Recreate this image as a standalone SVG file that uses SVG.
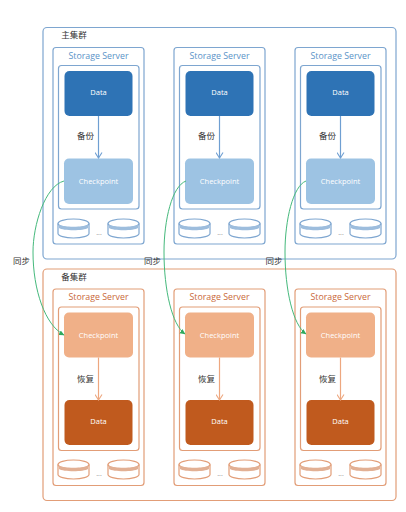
<svg xmlns="http://www.w3.org/2000/svg" xmlns:xlink="http://www.w3.org/1999/xlink" width="406" height="512" viewBox="0 0 406 512">
<style>
text{font-family:"Open Sans","Noto Sans",sans-serif;text-anchor:middle}
.zh{font-family:"Noto Sans CJK SC",sans-serif;font-size:8.5px;fill:#333}
.ss{font-size:8.8px}
.w{fill:#fff;font-size:7.5px}
.cb{fill:#9dc3e3}.db{fill:#2e73b5}.co{fill:#f0b088}.do{fill:#c05a1e}
.bl{fill:none;stroke:#7ea6d0;stroke-width:1.2}
.or{fill:none;stroke:#e29d77;stroke-width:1.2}
.tb{fill:#5b93c8}.to{fill:#c9764a}
.sb{fill:#5b93c8;font-size:8.8px}
.so{fill:#c9683a;font-size:8.8px}
.dot{font-size:7px;fill:#8a8a8a}
.sync{fill:none;stroke:#45b97c;stroke-width:1}
.ab{stroke:#6f9fd2;stroke-width:1.2;fill:none}
.ao{stroke:#eda77f;stroke-width:1.2;fill:none}
</style>
<defs>
<g id="cylb"><ellipse class="bl" cx="15.5" cy="4.5" rx="15.5" ry="4.5"/><path class="bl" d="M0 4.5V14.5C0 17 7 19 15.5 19S31 17 31 14.5V4.5"/><path d="M1 5.5C4 8.5 27 8.5 30 5.5V9C26 12 5 12 1 9Z" fill="#9dbddd"/></g>
<g id="cylo"><ellipse class="or" cx="15.5" cy="4.5" rx="15.5" ry="4.5"/><path class="or" d="M0 4.5V14.5C0 17 7 19 15.5 19S31 17 31 14.5V4.5"/><path d="M1 5.5C4 8.5 27 8.5 30 5.5V9C26 12 5 12 1 9Z" fill="#e2b094"/></g>
<marker id="gh" markerWidth="6" markerHeight="6" refX="5" refY="3" orient="auto" markerUnits="userSpaceOnUse"><path d="M0 0.5L5.5 3L0 5.5Z" fill="#2faa5e"/></marker>
<marker id="hb" markerWidth="8" markerHeight="8" refX="6.5" refY="4" orient="auto" markerUnits="userSpaceOnUse"><path d="M1 0.5L6.5 4L1 7.5" fill="none" stroke="#6f9fd2" stroke-width="1.1"/></marker>
<marker id="ho" markerWidth="8" markerHeight="8" refX="6.5" refY="4" orient="auto" markerUnits="userSpaceOnUse"><path d="M1 0.5L6.5 4L1 7.5" fill="none" stroke="#eda77f" stroke-width="1.1"/></marker>
</defs>
<rect width="406" height="512" fill="#fff"/>

<g id="primary-cluster"><rect class="bl" x="43" y="27.5" width="353" height="231.5" rx="4"/><text class="zh" x="74" y="38">主集群</text></g>
<g id="standby-cluster"><rect class="or" x="43" y="269" width="353" height="231.5" rx="4"/><text class="zh" x="74" y="280">备集群</text></g>

<g id="primary-1"><rect class="bl" x="53" y="47.5" width="91" height="196.5" rx="3"/><text class="sb" x="98.5" y="58.5">Storage Server</text><rect class="bl" x="58.5" y="65.5" width="80.5" height="143.5" rx="3"/>
<rect class="db" x="64.5" y="71" width="68" height="45" rx="5"/><text class="w" x="98.5" y="95">Data</text>
<rect class="cb" x="64" y="158.5" width="69" height="45.5" rx="5"/><text class="w" x="98.5" y="184">Checkpoint</text>
<use href="#cylb" x="58" y="219"/><use href="#cylb" x="108" y="219"/><text class="dot" x="99" y="235">...</text><text class="zh" x="85.5" y="139">备份</text></g>
<g id="primary-2"><rect class="bl" x="174" y="47.5" width="91" height="196.5" rx="3"/><text class="sb" x="219.5" y="58.5">Storage Server</text><rect class="bl" x="179.5" y="65.5" width="80.5" height="143.5" rx="3"/>
<rect class="db" x="185.5" y="71" width="68" height="45" rx="5"/><text class="w" x="219.5" y="95">Data</text>
<rect class="cb" x="185" y="158.5" width="69" height="45.5" rx="5"/><text class="w" x="219.5" y="184">Checkpoint</text>
<use href="#cylb" x="179" y="219"/><use href="#cylb" x="229" y="219"/><text class="dot" x="220" y="235">...</text><text class="zh" x="206.5" y="139">备份</text></g>
<g id="primary-3"><rect class="bl" x="295" y="47.5" width="91" height="196.5" rx="3"/><text class="sb" x="340.5" y="58.5">Storage Server</text><rect class="bl" x="300.5" y="65.5" width="80.5" height="143.5" rx="3"/>
<rect class="db" x="306.5" y="71" width="68" height="45" rx="5"/><text class="w" x="340.5" y="95">Data</text>
<rect class="cb" x="306" y="158.5" width="69" height="45.5" rx="5"/><text class="w" x="340.5" y="184">Checkpoint</text>
<use href="#cylb" x="300" y="219"/><use href="#cylb" x="350" y="219"/><text class="dot" x="341" y="235">...</text><text class="zh" x="327.5" y="139">备份</text></g>

<g id="standby-1"><rect class="or" x="53" y="289" width="91" height="196.5" rx="3"/><text class="so" x="98.5" y="300">Storage Server</text><rect class="or" x="58.5" y="307" width="80.5" height="143.5" rx="3"/>
<rect class="co" x="64" y="312.5" width="69" height="45" rx="5"/><text class="w" x="98.5" y="338">Checkpoint</text>
<rect class="do" x="64.5" y="400" width="68" height="45" rx="5"/><text class="w" x="98.5" y="424">Data</text>
<use href="#cylo" x="58" y="460"/><use href="#cylo" x="108" y="460"/><text class="dot" x="99" y="476">...</text><text class="zh" x="85.5" y="382">恢复</text></g>
<g id="standby-2"><rect class="or" x="174" y="289" width="91" height="196.5" rx="3"/><text class="so" x="219.5" y="300">Storage Server</text><rect class="or" x="179.5" y="307" width="80.5" height="143.5" rx="3"/>
<rect class="co" x="185" y="312.5" width="69" height="45" rx="5"/><text class="w" x="219.5" y="338">Checkpoint</text>
<rect class="do" x="185.5" y="400" width="68" height="45" rx="5"/><text class="w" x="219.5" y="424">Data</text>
<use href="#cylo" x="179" y="460"/><use href="#cylo" x="229" y="460"/><text class="dot" x="220" y="476">...</text><text class="zh" x="206.5" y="382">恢复</text></g>
<g id="standby-3"><rect class="or" x="295" y="289" width="91" height="196.5" rx="3"/><text class="so" x="340.5" y="300">Storage Server</text><rect class="or" x="300.5" y="307" width="80.5" height="143.5" rx="3"/>
<rect class="co" x="306" y="312.5" width="69" height="45" rx="5"/><text class="w" x="340.5" y="338">Checkpoint</text>
<rect class="do" x="306.5" y="400" width="68" height="45" rx="5"/><text class="w" x="340.5" y="424">Data</text>
<use href="#cylo" x="300" y="460"/><use href="#cylo" x="350" y="460"/><text class="dot" x="341" y="476">...</text><text class="zh" x="327.5" y="382">恢复</text></g>

<g id="connectors">
<path class="ab" d="M98.5 116V158" marker-end="url(#hb)"/><path class="ab" d="M219.5 116V158" marker-end="url(#hb)"/><path class="ab" d="M340.5 116V158" marker-end="url(#hb)"/>
<path class="ao" d="M98.5 357.5V400" marker-end="url(#ho)"/><path class="ao" d="M219.5 357.5V400" marker-end="url(#ho)"/><path class="ao" d="M340.5 357.5V400" marker-end="url(#ho)"/>
<path class="sync" d="M64 181C45 186 33 225 33 252C33 290 45 325 64 335" marker-end="url(#gh)"/>
<path class="sync" d="M186 181C172 186 164 220 164 252C164 290 172 325 185 334" marker-end="url(#gh)"/>
<path class="sync" d="M306 181C293 186 285 220 285 252C285 290 293 325 306 334" marker-end="url(#gh)"/>
<text class="zh" x="21.5" y="264">同步</text><text class="zh" x="152.5" y="264">同步</text><text class="zh" x="274" y="264">同步</text>
</g>
</svg>
